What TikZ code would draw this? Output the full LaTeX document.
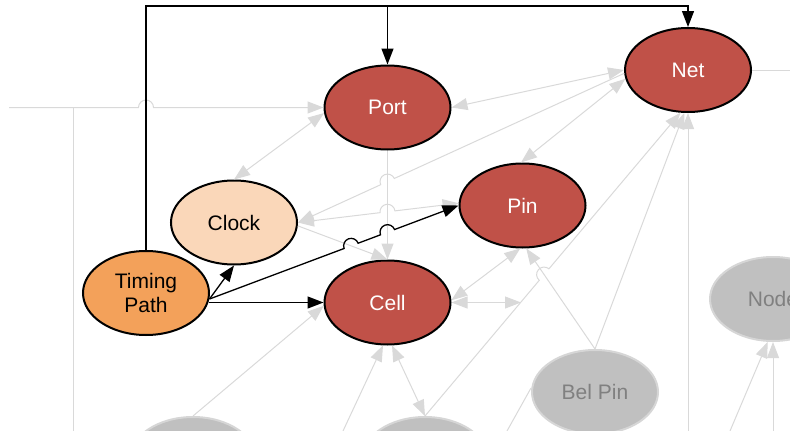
\documentclass[tikz,border=0pt]{standalone}
\usepackage{fontspec}
\setmainfont{Liberation Sans}
\usetikzlibrary{shapes.geometric,arrows.meta,calc}
\definecolor{nodered}{RGB}{192,81,72}
\definecolor{clockfill}{RGB}{250,215,185}
\definecolor{tpfill}{RGB}{243,161,90}
\definecolor{grayfill}{RGB}{192,192,192}
\definecolor{graybord}{RGB}{214,214,214}
\definecolor{graytext}{RGB}{128,128,128}
\definecolor{edgegray}{RGB}{217,217,217}
\begin{document}
\begin{tikzpicture}[x=1pt,y=1pt,
  ell/.style={ellipse, minimum width=126pt, minimum height=84pt, inner sep=0pt,
    line width=2pt, font=\fontsize{21}{24}\selectfont, align=center},
  rednode/.style={ell, draw=black, fill=nodered, text=white},
  clocknode/.style={ell, draw=black, fill=clockfill, text=black},
  tpnode/.style={ell, draw=black, fill=tpfill, text=black},
  graynode/.style={ell, draw=graybord, fill=grayfill, text=graytext},
  ge/.style={draw=edgegray, line width=1pt, >={Triangle[length=16pt,width=12pt]}},
  be/.style={draw=black, line width=1.3pt, >={Triangle[length=16pt,width=12pt]}}
]
\useasboundingbox (0,0) rectangle (790,-431);
\clip (0,0) rectangle (790,-431);

% nodes
\node[rednode] (port) at (387.5,-107.5) {Port};
\node[rednode] (net) at (688,-70) {Net};
\node[rednode] (pin) at (522.5,-205.5) {Pin};
\node[rednode] (cell) at (387.5,-302.5) {Cell};
\node[clocknode] (clock) at (234,-222.5) {Clock};
\node[tpnode] (tp) at (146,-293) {Timing\\Path};
\node[graynode] (belpin) at (595,-392) {Bel Pin};
\node[graynode] (noder) at (773,-299) {Node};
\node[graynode] (nA) at (193,-459) {};
\node[graynode] (nB) at (425,-459) {};

% free ends
\coordinate (top) at (0,-6);
\coordinate (lstart) at (9,-107.5);
\coordinate (vl) at (73,-431);
\coordinate (vltop) at (73,-107.5);
\coordinate (tpo) at (209.5,-299);
\coordinate (tpc) at (208.5,-302.5);
\coordinate (cellr) at (521,-302.5);
\coordinate (b1) at (343,-431);
\coordinate (b2) at (507,-431);
\coordinate (b2e) at (531,-388);
\coordinate (b3) at (688,-431);
\coordinate (b4) at (773,-431);
\coordinate (b5) at (730,-431);
\coordinate (rt) at (790,-70);

% endpoints used for crossings
\coordinate (pw) at (pin.west);
\coordinate (ps) at (port.south);
\coordinate (cn) at (cell.north);
\coordinate (ce) at (clock.east);
\coordinate (cse) at (clock.-3);
\coordinate (nw) at (net.183);
\coordinate (pw2) at (pin.178);
\coordinate (bpn) at (belpin.north);
\coordinate (pb) at (pin.-85);
\coordinate (bn) at (nB.north);
\coordinate (ns) at (net.-100);
\coordinate (pwst) at (port.west);
\coordinate (tpn) at (tp.north);

\coordinate (h1) at (intersection of tpo--pw and cse--cn);
\coordinate (h2) at (intersection of tpo--pw and ps--cn);
\coordinate (hg1) at (tpn |- lstart);
\coordinate (hg5) at (intersection of ce--nw and ps--cn);
\coordinate (hg6) at (intersection of ce--pw2 and ps--cn);
\coordinate (hg13) at (intersection of bn--ns and bpn--pb);

% gray edges
\draw[ge] (vl) -- (vltop);
\draw[ge,->] let \p1=($(pwst)-(lstart)$), \n1={atan2(\y1,\x1)} in
  (lstart) -- ($(hg1)!7.5pt!(lstart)$) arc[start angle=\n1+180,end angle=\n1,radius=7.5pt] -- (port.west);
\draw[ge,<->] (clock.north) -- (port.185);
\draw[ge,<->] (port.east) -- (net.west);
\draw[ge,<-] let \p1=($(nw)-(ce)$), \n1={atan2(\y1,\x1)} in
  (clock.east) -- ($(hg5)!7.5pt!(ce)$) arc[start angle=\n1+180,end angle=\n1,radius=7.5pt] -- (net.183);
\draw[ge,<->] let \p1=($(pw2)-(ce)$), \n1={atan2(\y1,\x1)} in
  (clock.east) -- ($(hg6)!7.5pt!(ce)$) arc[start angle=\n1+180,end angle=\n1,radius=7.5pt] -- (pin.178);
\draw[ge,<->] (net.188) -- (pin.92);
\draw[ge,->] (port.south) -- (cell.north);
\draw[ge,->] (clock.-3) -- (cell.north);
\draw[ge,<->] (cell.2) -- (pin.-93);
\draw[ge,<->] (cell.east) -- (cellr);
\draw[ge,->] (belpin.north) -- (pin.-85);
\draw[ge,->] (belpin.north) -- (net.-95);
\draw[ge,->] let \p1=($(ns)-(bn)$), \n1={atan2(\y1,\x1)} in
  (nB.north) -- ($(hg13)!7.5pt!(bn)$) arc[start angle=\n1+180,end angle=\n1,radius=7.5pt] -- (net.-100);
\draw[ge,<->] (cell.-84) -- (nB.north);
\draw[ge,->] (b1) -- (cell.-96);
\draw[ge,->] (nA.north) -- (cell.183);
\draw[ge] (b2) -- (b2e);
\draw[ge,->] (b3) -- (net.south);
\draw[ge] (net.east) -- (rt);
\draw[ge,->] (b4) -- (noder.south);
\draw[ge,->] (b5) -- (noder.-97);

% black edges
\draw[be,->] (tp.north) |- (net.north |- top) -- (net.north);
\draw[be,->] (port.north |- top) -- (port.north);
\draw[be,->] (tpo) -- (clock.south);
\draw[be,->] (tpc) -- (cell.west);
\draw[be,->] let \p1=($(pw)-(tpo)$), \n1={atan2(\y1,\x1)} in
  (tpo) -- ($(h1)!7.5pt!(tpo)$) arc[start angle=\n1+180,end angle=\n1,radius=7.5pt]
  -- ($(h2)!7.5pt!(tpo)$) arc[start angle=\n1+180,end angle=\n1,radius=7.5pt] -- (pin.west);
\end{tikzpicture}
\end{document}
